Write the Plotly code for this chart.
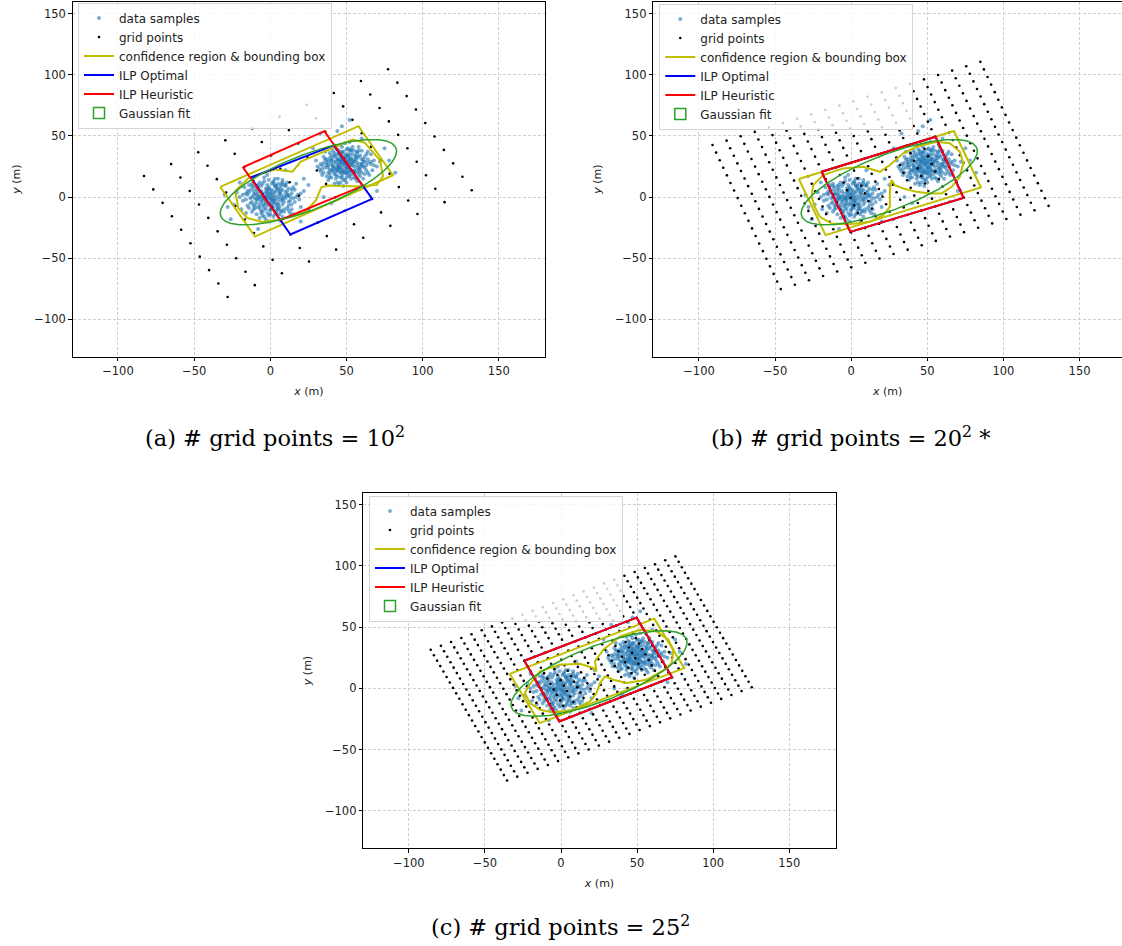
import numpy as np
import plotly.graph_objects as go

# ---------------- data samples ----------------
samples_cluster_left = [
    (-2, 3), (3, -5), (-8, 1), (5, 6), (1, -2), (-12, -4), (7, 2), (-4, -9), (10, -1), (-1, 8),
    (0, 0), (4, -11), (-6, 5), (14, 3), (-15, -7), (2, 12), (-3, -3), (8, -6), (-9, 9), (6, -14),
    (-5, -1), (12, 7), (-11, 2), (1, -8), (3, 4), (-18, -3), (9, 10), (-2, -13), (5, -2), (-7, -6),
    (16, -4), (-13, 6), (0, 5), (4, 1), (-4, 13), (11, -9), (-1, -5), (7, 9), (-20, 0), (2, -16),
    (-6, -11), (13, 0), (-9, -2), (3, 15), (-3, 7), (6, -8), (-14, 10), (18, 2), (0, -10), (-8, 4),
    (5, 11), (-1, 2), (9, -12), (-5, -15), (2, -4), (-10, -9), (15, 8), (-2, -7), (7, -3), (-16, 3),
    (1, 6), (-4, 0), (10, 4), (-7, 12), (4, -7), (-12, -12), (8, 14), (-3, -18), (22, 5), (-1, -1),
    (3, 9), (-6, -4), (12, -7), (-9, -14), (6, 3), (-17, 8), (0, -14), (5, -10), (-2, 10), (11, 12),
    (-8, -8), (14, -10), (-5, 3), (2, 1), (-13, -1), (8, -16), (-1, 14), (19, -2), (-4, -6), (4, 8),
    (-24, -6), (7, -11), (-7, -17), (1, -6), (10, 9), (-11, 5), (3, -1), (-3, 4), (16, 6), (-6, 9),
    (-15, 2), (13, -13), (-10, -6), (9, 1), (-19, -10), (20, -8), (-2, 18), (6, -19), (-5, -12), (1, 11),
    (-9, 6), (11, 2), (-14, -9), (4, -13), (-7, 0), (8, 6), (-1, -20), (15, -1), (-12, 11), (2, -9),
    (-22, 4), (5, 15), (-3, -10), (12, -4), (-8, -1), (0, 3), (17, 11), (-16, -13), (7, 5), (-4, 16),
    (-3, 1), (2, -3), (-7, -2), (6, 4), (0, -6), (-10, 3), (8, -1), (-5, -7), (11, 5), (-2, 6),
    (1, 2), (5, -9), (-8, 7), (13, -3), (-13, -5), (3, 10), (-4, -1), (9, -4), (-11, 8), (7, -12),
    (-6, 1), (10, 10), (-12, 0), (0, -11), (4, 6), (-16, -2), (8, 12), (-1, -15), (6, 0), (-9, -4),
    (14, -6), (-14, 4), (-1, 7), (3, -3), (-5, 11), (12, -11), (0, -3), (6, 7), (-18, 2), (3, -14),
    (-7, -9), (12, 2), (-10, -1), (2, 13), (-2, 5), (5, -6), (-12, 9), (17, 0), (1, -8), (-9, 2),
    (4, 9), (-3, -2), (9, -10), (-6, -13), (1, -1), (-11, -7), (14, 6), (-3, -5), (8, -2), (-15, 5),
    (2, 4), (-5, -3), (11, 1), (-8, 10), (5, -5), (-11, -10), (7, 11), (-4, -16), (20, 3), (-2, 0),
]
samples_cluster_right = [
    (50, 28), (44, 22), (55, 31), (40, 27), (47, 18), (58, 24), (52, 35), (38, 20), (46, 30), (61, 29),
    (49, 25), (43, 33), (54, 19), (36, 24), (57, 36), (48, 14), (42, 29), (63, 22), (51, 40), (45, 21),
    (53, 27), (39, 32), (59, 17), (47, 33), (34, 18), (56, 30), (48, 22), (41, 38), (62, 33), (50, 12),
    (44, 26), (66, 27), (37, 28), (52, 23), (46, 43), (58, 38), (43, 15), (55, 25), (31, 25), (49, 31),
    (60, 20), (45, 36), (53, 15), (40, 22), (64, 37), (48, 27), (35, 33), (57, 13), (51, 34), (42, 19),
    (68, 30), (46, 24), (54, 41), (38, 14), (50, 19), (44, 39), (61, 25), (47, 29), (33, 21), (56, 20),
    (52, 30), (41, 25), (59, 34), (45, 10), (48, 37), (65, 18), (39, 36), (53, 32), (43, 23), (70, 25),
    (50, 24), (37, 17), (55, 38), (46, 16), (62, 29), (42, 34), (57, 23), (49, 44), (35, 28), (52, 17),
    (47, 21), (60, 31), (40, 30), (54, 28), (44, 12), (58, 41), (51, 26), (30, 30), (63, 26), (46, 33),
    (48, 30), (55, 16), (41, 21), (66, 35), (43, 42), (50, 35), (38, 24), (57, 28), (45, 27), (61, 15),
    (53, 22), (36, 37), (49, 20), (59, 27), (44, 30), (52, 45), (42, 11), (67, 22), (47, 37), (39, 19),
    (56, 33), (50, 16), (45, 23), (60, 38), (34, 26), (54, 35), (48, 9), (41, 32), (62, 19), (51, 29),
    (46, 28), (58, 21), (37, 31), (53, 38), (43, 18), (64, 31), (49, 34), (40, 16), (55, 22), (47, 26),
    (57, 32), (44, 35), (51, 21), (32, 23), (59, 24), (45, 31), (52, 27), (72, 29), (38, 26), (50, 39),
    (49, 27), (45, 24), (54, 29), (41, 26), (48, 20), (57, 26), (51, 33), (39, 22), (47, 31), (60, 27),
    (50, 23), (44, 31), (53, 21), (37, 26), (56, 34), (47, 16), (43, 28), (62, 24), (52, 38), (46, 20),
    (52, 25), (40, 30), (58, 19), (48, 32), (35, 20), (55, 29), (49, 21), (42, 36), (61, 31), (49, 14),
    (45, 25), (64, 28), (38, 29), (51, 24), (47, 41), (57, 37), (44, 17), (54, 26), (33, 27), (50, 30),
    (59, 22), (46, 35), (52, 18), (41, 23), (63, 35), (49, 28), (36, 31), (56, 15), (50, 33), (43, 21),
    (66, 29), (47, 23), (53, 39), (39, 16), (51, 20), (45, 38), (60, 26), (46, 29), (34, 23), (55, 21),
    (53, 31), (42, 24), (58, 33), (46, 12), (47, 36), (64, 20), (40, 34), (52, 31), (44, 24), (68, 26),
]
samples_scattered = [
    (33, 52), (44, 54), (47, 58), (52, 63), (-26, -18), (-30, 2), (20, -20), (78, 30), (70, 5),
    (-8, -26), (28, 40), (15, -14), (35, 0), (10, 22), (60, 48), (-20, 12), (82, 20), (40, -5),
    (25, 10), (22, 15), (-28, -8), (75, 40),
]

# ---------------- grid points: origin corner, row step, column step, count ----------------
grid_n = [10, 20, 25]
grid_origin = [(-82.9, 17.3), (-91.1, 42.6), (-85.6, 31.6)]
grid_row_step = [(17.8, 9.7), (9.26, 3.58), (6.70, 3.175)]
grid_col_step = [(6.1, -11.0), (2.36, -6.2), (2.09, -4.45)]

# ---------------- confidence regions (contours) ----------------
conf_region_a = [
    (-5.3, -20.3), (-15.1, -17.1), (-21, -9), (-23, 5), (-14, 16), (3, 22.5), (14.5, 20.8),
    (20, 29), (54, 47), (62, 44.5), (72, 30), (74, 17), (70, 10), (58, 8.7), (38, 9.5),
    (33.5, 8), (30, -2.5), (22, -13), (8, -18),
]
conf_region_b = [
    (-25.0, 9.8), (-18.4, 18.0), (-5.3, 23.5), (7.9, 24.8), (18.9, 20.7), (25.4, 26.2),
    (34.2, 35.8), (43.0, 41.2), (56.1, 45.3), (64.8, 44.0), (71.4, 37.1), (73.6, 27.6),
    (71.4, 16.6), (66.0, 8.4), (59.4, 3.0), (51.7, 3.0), (43.0, 4.3), (34.2, 7.1),
    (28.7, 9.8), (26.5, 13.9), (25.4, 5.7), (25.4, -8.0), (21.0, -14.8), (12.3, -20.2),
    (-0.9, -22.1), (-12.9, -21.6), (-20.6, -16.1), (-23.9, -8.0), (-26.0, 0.3),
]
conf_region_c = [
    (-21.5, 1.6), (-13.8, 13.9), (-0.7, 19.3), (12.5, 20.2), (21.2, 16.7), (23.4, 13.9),
    (22.3, 22.0), (27.8, 31.6), (38.8, 42.4), (51.9, 47.9), (62.9, 46.5), (70.5, 39.8),
    (73.8, 31.6), (72.7, 20.7), (66.2, 13.9), (56.3, 7.1), (43.2, 4.4), (34.4, 7.1),
    (28.9, 9.8), (25.6, 4.4), (23.4, -3.8), (19.1, -10.6), (8.1, -17.4), (-5.1, -19.6),
    (-13.8, -17.4), (-20.4, -11.9), (-23.7, -3.8),
]

# ---------------- bounding boxes and ILP rectangles (corners) ----------------
bbox_a = [(-32.9, 8.4), (57.9, 58.0), (80.5, 17.9), (-10.1, -32.3)]
bbox_b = [(-34.4, 14.8), (67.5, 54.1), (85.2, 7.9), (-16.8, -31.1)]
bbox_c = [(-33.7, 11.9), (61.3, 57.0), (81.0, 16.6), (-14.0, -28.3)]

ilp_optimal_a = [(-12.7, 16.0), (41.6, 42.3), (66.9, -1.4), (13.2, -30.6)]
ilp_optimal_b = [(-19.5, 20.8), (55.4, 49.4), (73.8, -0.6), (-0.6, -28.4)]
ilp_optimal_c = [(-24.1, 22.6), (49.7, 57.8), (73.0, 9.2), (-1.1, -26.9)]

ilp_heuristic_a = [(-18.0, 24.4), (35.5, 53.9), (60.7, 9.2), (6.6, -18.7)]
ilp_heuristic_b = [(-19.5, 20.8), (55.4, 49.4), (73.8, -0.6), (-0.6, -28.4)]
ilp_heuristic_c = [(-24.1, 22.6), (49.7, 57.8), (73.0, 9.2), (-1.1, -26.9)]

# ---------------- Gaussian fit ellipse parameters ----------------
gauss_center = (25.0, 12.2)
gauss_semi_axes = (64.0, 21.7)
gauss_angle_deg = 27.0

captions = [
    "(a) # grid points = 10<sup>2</sup>",
    "(b) # grid points = 20<sup>2</sup> *",
    "(c) # grid points = 25<sup>2</sup>",
]

# ---------------- layout geometry (pixels of the 1122x946 page) ----------------
W, H = 1122, 946
panels = [
    dict(x0=72.7, x1=545.0, y0=1.7, y1=356.7, xr=[-129.7, 180.3]),
    dict(x0=653.3, x1=1122.0, y0=1.7, y1=356.7, xr=[-130.0, 177.9]),
    dict(x0=363.3, x1=835.7, y0=492.7, y1=848.3, xr=[-129.9, 180.5]),
]
yr = [-130.5, 159.8]
legend_pos = [(78, 2.5), (659.3, 3.5), (369, 495.5)]
caption_pos = [(275, 436), (850, 436), (560, 925)]

C_SAMPLE = "rgba(31,119,180,0.6)"
C_YELLOW = "#bfbf00"
C_BLUE = "#0000ff"
C_RED = "#ff0000"
C_GREEN = "#2ca02c"
FONT = "DejaVu Sans"


def closed(pts):
    xs = [p[0] for p in pts] + [pts[0][0]]
    ys = [p[1] for p in pts] + [pts[0][1]]
    return xs, ys


def grid_points(origin, u, v, n):
    i, j = np.meshgrid(np.arange(n), np.arange(n))
    gx = origin[0] + i * u[0] + j * v[0]
    gy = origin[1] + i * u[1] + j * v[1]
    return gx.ravel(), gy.ravel()


def ellipse(center, axes, ang_deg):
    t = np.linspace(0, 2 * np.pi, 241)
    a, b = axes
    th = np.deg2rad(ang_deg)
    ex = center[0] + a * np.cos(t) * np.cos(th) - b * np.sin(t) * np.sin(th)
    ey = center[1] + a * np.cos(t) * np.sin(th) + b * np.sin(t) * np.cos(th)
    return ex, ey


all_samples = samples_cluster_left + samples_cluster_right + samples_scattered
sx = [p[0] for p in all_samples]
sy = [p[1] for p in all_samples]

conf_regions = [conf_region_a, conf_region_b, conf_region_c]
bboxes = [bbox_a, bbox_b, bbox_c]
optimals = [ilp_optimal_a, ilp_optimal_b, ilp_optimal_c]
heuristics = [ilp_heuristic_a, ilp_heuristic_b, ilp_heuristic_c]

fig = go.Figure()
for k in range(3):
    xa = "x" if k == 0 else f"x{k+1}"
    ya = "y" if k == 0 else f"y{k+1}"
    lg = "legend" if k == 0 else f"legend{k+1}"
    common = dict(xaxis=xa, yaxis=ya, legend=lg)

    fig.add_trace(go.Scatter(x=sx, y=sy, mode="markers", name="data samples",
                             marker=dict(color=C_SAMPLE, size=4, line=dict(width=0)), **common))
    gx, gy = grid_points(grid_origin[k], grid_row_step[k], grid_col_step[k], grid_n[k])
    fig.add_trace(go.Scatter(x=gx, y=gy, mode="markers", name="grid points",
                             marker=dict(color="black", size=2.6, line=dict(width=0)), **common))
    cx, cy = closed(conf_regions[k])
    bx, by = closed(bboxes[k])
    fig.add_trace(go.Scatter(x=cx + [None] + bx, y=cy + [None] + by, mode="lines",
                             name="confidence region & bounding box",
                             line=dict(color=C_YELLOW, width=2), **common))
    ox, oy = closed(optimals[k])
    fig.add_trace(go.Scatter(x=ox, y=oy, mode="lines", name="ILP Optimal",
                             line=dict(color=C_BLUE, width=2), **common))
    hx, hy = closed(heuristics[k])
    fig.add_trace(go.Scatter(x=hx, y=hy, mode="lines", name="ILP Heuristic",
                             line=dict(color=C_RED, width=2), **common))
    ex, ey = ellipse(gauss_center, gauss_semi_axes, gauss_angle_deg)
    fig.add_trace(go.Scatter(x=ex, y=ey, mode="lines", name="Gaussian fit", showlegend=False,
                             line=dict(color=C_GREEN, width=1.5), **common))
    # legend entry for the ellipse patch (outlined box)
    fig.add_trace(go.Scatter(x=[None], y=[None], mode="markers", name="Gaussian fit",
                             marker=dict(symbol="square-open", size=11, color=C_GREEN,
                                         line=dict(width=1.5, color=C_GREEN)), **common))

layout = dict(
    width=W, height=H, autosize=False,
    margin=dict(l=0, r=0, t=0, b=0),
    paper_bgcolor="white", plot_bgcolor="white",
    font=dict(family=FONT, size=11, color="#222"),
    annotations=[],
)
axis_common = dict(showgrid=True, gridcolor="#cfcfcf", griddash="3px,2px", gridwidth=0.8,
                   zeroline=False, showline=True, linecolor="black", linewidth=1, mirror=True,
                   ticks="outside", ticklen=3.5, tickcolor="black", tickwidth=0.8,
                   tickfont=dict(family=FONT, size=11.5, color="#222"))
for k, p in enumerate(panels):
    sfx = "" if k == 0 else str(k + 1)
    anchor_x = "y" if k == 0 else f"y{k+1}"
    anchor_y = "x" if k == 0 else f"x{k+1}"
    layout["xaxis" + sfx] = dict(axis_common, domain=[p["x0"] / W, p["x1"] / W], anchor=anchor_x,
                                 range=p["xr"], tickvals=[-100, -50, 0, 50, 100, 150],
                                 title=dict(text="<i>x</i> (m)", standoff=10,
                                            font=dict(family=FONT, size=11, color="#222")))
    layout["yaxis" + sfx] = dict(axis_common, domain=[1 - p["y1"] / H, 1 - p["y0"] / H], anchor=anchor_y,
                                 range=yr, tickvals=[-100, -50, 0, 50, 100, 150],
                                 title=dict(text="<i>y</i> (m)", standoff=11,
                                            font=dict(family=FONT, size=11, color="#222")))
    lx, ly = legend_pos[k]
    layout["legend" + sfx] = dict(x=lx / W, y=1 - ly / H, xanchor="left", yanchor="top",
                                  bgcolor="rgba(255,255,255,0.8)", bordercolor="#d5d5d5", borderwidth=1,
                                  font=dict(family=FONT, size=12, color="#222"),
                                  tracegroupgap=0, itemwidth=30)
    cxp, cyp = caption_pos[k]
    layout["annotations"].append(dict(text=captions[k], x=cxp / W, y=1 - cyp / H, xref="paper", yref="paper",
                                      showarrow=False, xanchor="center", yanchor="middle",
                                      font=dict(family="DejaVu Serif", size=22.5, color="black")))

fig.update_layout(**layout)
fig.write_html("out.html", config={"displayModeBar": False},
               post_script="document.body.style.margin='0px';document.body.style.overflow='hidden';")
